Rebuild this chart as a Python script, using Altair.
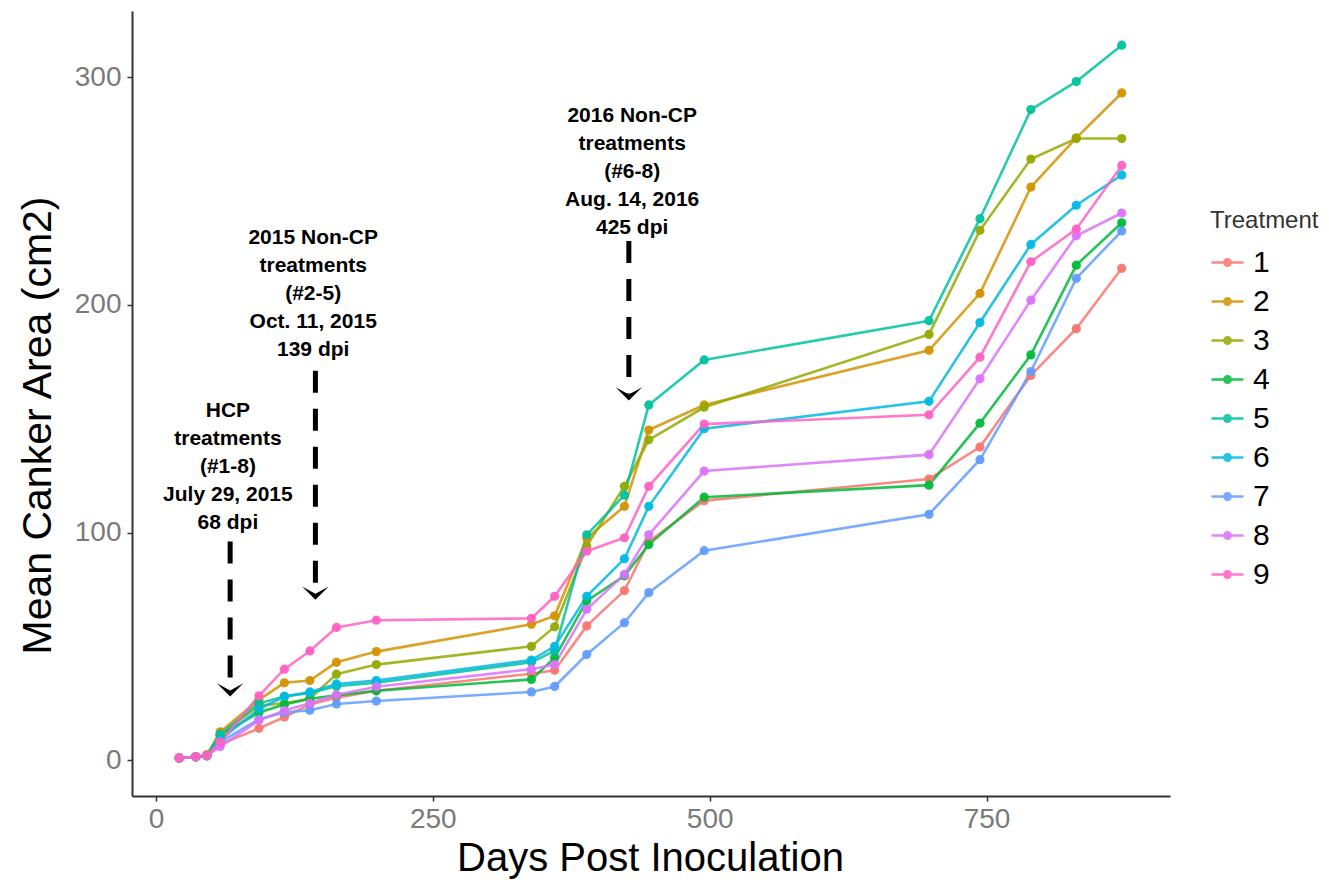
import altair as alt
import pandas as pd

# ---- data ----
days = [21, 36, 46, 58, 93, 116, 139, 163, 199, 339, 360, 389, 423, 445, 495, 698, 744, 790, 831, 872]

t1 = [1, 1.5, 2, 7, 14, 19, 24.5, 27.5, 30.5, 38, 39.5, 59, 74.5, 96, 114, 123.5, 137.5, 169, 189.5, 216]
t2 = [1, 1.5, 2.5, 12.5, 26.5, 34, 35, 43, 47.7, 59.7, 63.4, 97.5, 111.5, 145, 156, 180, 205, 251.7, 273.3, 293]
t3 = [1, 1.5, 2, 11, 24, 25, 27, 37.8, 42, 50, 58.6, 94, 120.3, 140.7, 155, 187, 232.7, 264, 273, 273]
t4 = [1, 1.5, 2, 11, 21, 24.5, 27, 28.5, 30.5, 35.5, 45, 70, 81, 94.7, 115.5, 120.8, 148, 178, 217.4, 236]
t5 = [1, 1.5, 2, 11.5, 25, 28, 29.5, 32.5, 34, 43, 48, 99, 116.4, 156, 175.8, 193, 237.8, 285.7, 298, 314]
t6 = [1, 1.5, 2, 9, 22.5, 28, 30, 33.5, 35, 44, 50, 72, 88.5, 111.5, 145.6, 157.6, 192.2, 226.5, 243.7, 257]
t7 = [1, 1.5, 2, 8, 18, 21, 22, 24.7, 26, 30, 32.4, 46.4, 60.4, 73.6, 92, 108, 132, 170.7, 211.6, 232.4]
t8 = [1, 1.5, 2, 6, 17.5, 21.8, 25, 28.8, 32.3, 40, 42, 66.3, 81.6, 99, 127, 134.2, 167.5, 202, 230.3, 240.3]
t9 = [1, 1.5, 2, 8, 28.3, 40, 48, 58.3, 61.5, 62.3, 72, 91.8, 97.7, 120.3, 147.6, 151.7, 177, 218.9, 233.2, 261.2]

treatments = ["1", "2", "3", "4", "5", "6", "7", "8", "9"]
series = [t1, t2, t3, t4, t5, t6, t7, t8, t9]
colors = ["#F8766D", "#D39200", "#93AA00", "#00BA38", "#00C19F",
          "#00B9E3", "#619CFF", "#DB72FB", "#FF61C3"]

# annotations (in data units)
ann_x = [65, 142, 430]
ann_top = [158, 234, 287.6]
ann_text = [
    "HCP\ntreatments\n(#1-8)\nJuly 29, 2015\n68 dpi",
    "2015 Non-CP\ntreatments\n(#2-5)\nOct. 11, 2015\n139 dpi",
    "2016 Non-CP\ntreatments\n(#6-8)\nAug. 14, 2016\n425 dpi",
]
arrow_x = [67, 144, 427]
arrow_start = [96, 171, 228]
arrow_tip = [28, 70.5, 158]

rows = []
for name, vals in zip(treatments, series):
    for d, v in zip(days, vals):
        rows.append({"Days": d, "Area": v, "Treatment": name})
df = pd.DataFrame(rows)

ann_df = pd.DataFrame({"x": ann_x, "y": ann_top, "label": ann_text})
arr_df = pd.DataFrame({"x": arrow_x, "y": arrow_start,
                       "y2": [t + 3 for t in arrow_tip], "tip": arrow_tip})

FONT = "Liberation Sans"

xscale = alt.Scale(domain=[-21.6, 915.6], nice=False, zero=False)
yscale = alt.Scale(domain=[-15.7, 329], nice=False, zero=False)

xaxis = alt.Axis(values=[0, 250, 500, 750], grid=False, title="Days Post Inoculation",
                 titleFontSize=40, titleFontWeight="normal", titleColor="black",
                 titleFont=FONT, titleX=518, titleY=62, titleBaseline="middle",
                 labelFont=FONT, labelFontSize=28, labelColor="#7a7a7a", labelPadding=4,
                 domainColor="#333333", domainWidth=2, tickColor="#333333", tickSize=5,
                 tickWidth=1.5)
yaxis = alt.Axis(values=[0, 100, 200, 300], grid=False, title="Mean Canker Area (cm2)",
                 titleFontSize=41, titleFontWeight="normal", titleColor="black",
                 titleFont=FONT, titleX=-94, titleY=414, titleBaseline="middle",
                 titleAlign="center", titleAngle=270,
                 labelFont=FONT, labelFontSize=28, labelColor="#7a7a7a", labelPadding=6,
                 domainColor="#333333", domainWidth=2, tickColor="#333333", tickSize=5,
                 tickWidth=1.5)

legend_symbol = ("M -1 0 L 1 0 M -0.2 0 A 0.2 0.2 0 1 1 0.2 0 A 0.2 0.2 0 1 1 -0.2 0 "
                 "M -0.08 0 A 0.08 0.08 0 1 1 0.08 0 A 0.08 0.08 0 1 1 -0.08 0")

color = alt.Color("Treatment:N", scale=alt.Scale(domain=treatments, range=colors),
                  legend=alt.Legend(orient="none", legendX=1078, legendY=198,
                                    title="Treatment", titleFont=FONT, titleFontSize=24,
                                    titleFontWeight="normal", titleColor="#333333",
                                    titlePadding=12,
                                    labelFont=FONT, labelFontSize=30, labelColor="black",
                                    labelOffset=8, symbolType=legend_symbol,
                                    symbolSize=1024, symbolStrokeWidth=2.5,
                                    rowPadding=6))

base = alt.Chart(df).encode(
    x=alt.X("Days:Q", scale=xscale, axis=xaxis),
    y=alt.Y("Area:Q", scale=yscale, axis=yaxis),
)
lines = base.mark_line(strokeWidth=2.6, opacity=0.85).encode(color=color)
points = base.mark_point(filled=True, size=85, opacity=0.95).encode(
    color=alt.Color("Treatment:N", scale=alt.Scale(domain=treatments, range=colors), legend=None)
)

shafts = alt.Chart(arr_df).mark_rule(color="black", strokeWidth=5, strokeDash=[22, 16]).encode(
    x="x:Q", y="y:Q", y2="y2:Q")
heads = alt.Chart(arr_df).mark_point(
    shape="M -1 -1 L 0 0 L 1 -1 L 0 -0.45 Z", filled=True, color="black", size=700, opacity=1
).encode(x="x:Q", y="tip:Q")
texts = alt.Chart(ann_df).mark_text(
    lineBreak="\n", fontWeight="bold", fontSize=21, lineHeight=28, baseline="top",
    align="center", font=FONT, color="black"
).encode(x="x:Q", y="y:Q", text="label:N")

chart = alt.layer(lines, points, shafts, heads, texts).properties(
    width=1038, height=785,
    autosize=alt.AutoSizeParams(type="none"),
    padding={"left": 132, "top": 11, "right": 159, "bottom": 86},
    background="white",
).configure_view(stroke=None)

chart.save("out.html", embed_options={"renderer": "svg", "actions": False})
